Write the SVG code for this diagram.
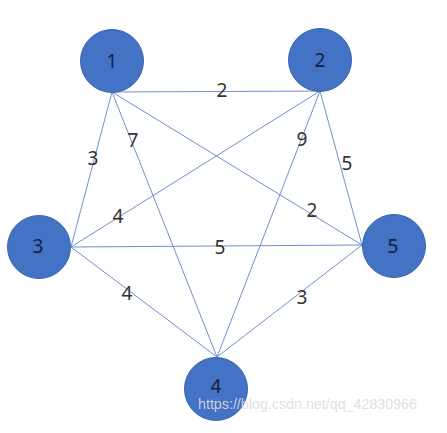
<svg xmlns="http://www.w3.org/2000/svg" width="447" height="433" viewBox="0 0 447 433">
<style>
.node circle{fill:#4472C4;stroke:#3A64AE;stroke-width:1}
.node text{font-family:"Noto Sans","Liberation Sans",sans-serif;font-size:19px;fill:#14213D;text-anchor:middle;dominant-baseline:central}
#edges line{stroke:#6F8FD0;stroke-width:1}
.lbl{font-family:"Noto Sans","Liberation Sans",sans-serif;font-size:19px;fill:#333;text-anchor:middle;dominant-baseline:central}
.wm{font-family:"Liberation Sans",Arial,sans-serif;font-size:15px;fill:#DADDE3;fill-opacity:0.9}
</style>
<rect width="447" height="433" fill="#fff"/>
<g id="edges">
<line x1="112" y1="92" x2="320" y2="91"/>
<line x1="112" y1="92" x2="71" y2="247"/>
<line x1="112" y1="92" x2="217" y2="357"/>
<line x1="112" y1="92" x2="362" y2="245"/>
<line x1="320" y1="91" x2="71" y2="247"/>
<line x1="320" y1="91" x2="217" y2="357"/>
<line x1="320" y1="91" x2="362" y2="245"/>
<line x1="71" y1="247" x2="362" y2="245"/>
<line x1="71" y1="247" x2="217" y2="357"/>
<line x1="217" y1="357" x2="362" y2="245"/>
<text class="lbl" x="222" y="90">2</text>
<text class="lbl" x="93" y="158">3</text>
<text class="lbl" x="133" y="140">7</text>
<text class="lbl" x="312" y="210">2</text>
<text class="lbl" x="118" y="216">4</text>
<text class="lbl" x="302" y="139">9</text>
<text class="lbl" x="347" y="163">5</text>
<text class="lbl" x="220" y="247">5</text>
<text class="lbl" x="127" y="293">4</text>
<text class="lbl" x="302" y="297">3</text>
</g>
<g id="node1" class="node"><circle cx="112" cy="61" r="31.5"/><text x="112" y="61">1</text></g>
<g id="node2" class="node"><circle cx="320" cy="60" r="31.5"/><text x="320" y="60">2</text></g>
<g id="node3" class="node"><circle cx="39" cy="247" r="31.5"/><text x="38" y="246">3</text></g>
<g id="node5" class="node"><circle cx="394" cy="246" r="31.5"/><text x="393" y="246">5</text></g>
<g id="node4" class="node"><circle cx="216" cy="389" r="31.5"/><text x="216" y="386">4</text></g>
<text class="wm" x="198" y="409" textLength="219" lengthAdjust="spacingAndGlyphs">https://blog.csdn.net/qq_42830966</text>
</svg>
